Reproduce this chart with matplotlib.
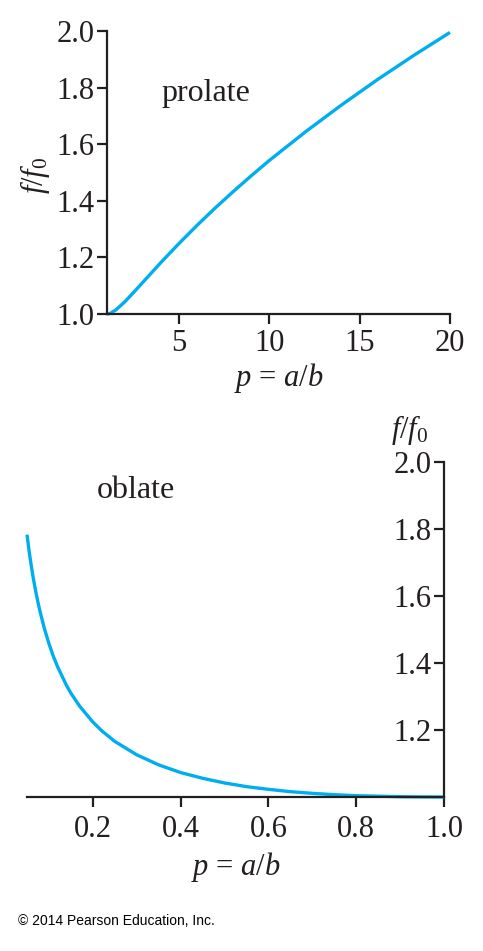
import matplotlib
matplotlib.use('Agg')
import matplotlib.pyplot as plt

# prolate branch, p = a/b > 1
p_prolate = [1.0, 1.1, 1.2, 1.5, 2, 2.5, 3, 4, 5, 6, 7, 8, 9, 10, 12, 14, 16, 18, 20]
f_prolate = [1.0, 1.001, 1.003, 1.015, 1.044, 1.078, 1.113, 1.183, 1.250, 1.314,
             1.375, 1.433, 1.489, 1.543, 1.644, 1.739, 1.829, 1.914, 1.995]

# oblate branch, p = a/b < 1
p_oblate = [0.05, 0.055, 0.06, 0.065, 0.07, 0.075, 0.08, 0.09, 0.10, 0.11,
            0.12, 0.14, 0.15, 0.17, 0.20, 0.22, 0.25, 0.30, 0.35, 0.40, 0.45,
            0.50, 0.55, 0.60, 0.65, 0.70, 0.75, 0.80, 0.85, 0.90, 0.95, 1.00]
f_oblate = [1.783, 1.732, 1.688, 1.648, 1.613, 1.581, 1.552, 1.501, 1.458, 1.420,
            1.388, 1.333, 1.310, 1.271, 1.224, 1.198, 1.166, 1.126, 1.096, 1.073,
            1.056, 1.042, 1.031, 1.023, 1.016, 1.011, 1.007, 1.004, 1.0025, 1.001,
            1.0003, 1.0]

prolate_xticks = [5, 10, 15, 20]
prolate_yticks = [1.0, 1.2, 1.4, 1.6, 1.8, 2.0]
oblate_xticks = [0.2, 0.4, 0.6, 0.8, 1.0]
oblate_yticks = [1.2, 1.4, 1.6, 1.8, 2.0]

curve_col = '#00aeef'
ink = '#231f20'
fs = 22

plt.rcParams['font.family'] = ['Liberation Serif', 'DejaVu Serif']
plt.rcParams['mathtext.fontset'] = 'custom'
plt.rcParams['mathtext.rm'] = 'Liberation Serif'
plt.rcParams['mathtext.it'] = 'Liberation Serif:italic'
plt.rcParams['font.size'] = fs

fig = plt.figure(figsize=(4.83, 9.51), dpi=100)


def style_axes(ax, xpad):
   for s in ['top', 'right']:
      ax.spines[s].set_visible(False)
   for s in ['bottom', 'left']:
      ax.spines[s].set_linewidth(1.6)
      ax.spines[s].set_color(ink)
   ax.tick_params(direction='out', length=7, width=1.6, colors=ink,
                  labelsize=fs, pad=2)
   ax.tick_params(axis='x', pad=xpad)


# ---- top: prolate
ax1 = fig.add_axes([0.2215, 0.6698, 0.7101, 0.2976])
ax1.plot(p_prolate, f_prolate, color=curve_col, lw=2.4, solid_capstyle='butt',
         clip_on=False)
ax1.set_xlim(1, 20)
ax1.set_ylim(1.0, 2.0)
ax1.set_xticks(prolate_xticks)
ax1.set_xticklabels([str(v) for v in prolate_xticks])
ax1.set_yticks(prolate_yticks)
ax1.set_yticklabels(['%.1f' % v for v in prolate_yticks])
style_axes(ax1, 4)
ax1.set_xlabel(r'$p$ = $a/b$', fontsize=fs, labelpad=2, color=ink)
ax1.text(-0.21, 0.491, r'$f/f_0$', transform=ax1.transAxes, rotation=90,
         ha='center', va='center', fontsize=fs, color=ink)
ax1.text(0.16, 0.78, 'prolate', transform=ax1.transAxes, fontsize=23,
         color=ink, va='center')

# ---- bottom: oblate, y spine sits at p = 1
ax2 = fig.add_axes([0.0559, 0.1619, 0.8634, 0.3523])
ax2.plot(p_oblate, f_oblate, color=curve_col, lw=2.4, solid_capstyle='butt',
         clip_on=False)
ax2.set_xlim(0.05, 1.0)
ax2.set_ylim(1.0, 2.0)
ax2.set_xticks(oblate_xticks)
ax2.set_xticklabels(['%.1f' % v for v in oblate_xticks])
ax2.set_yticks(oblate_yticks)
ax2.set_yticklabels(['%.1f' % v for v in oblate_yticks])
style_axes(ax2, 6)
ax2.spines['left'].set_position(('data', 1.0))
ax2.set_xlabel(r'$p$ = $a/b$', fontsize=fs, labelpad=4, color=ink)
ax2.text(0.918, 1.096, r'$f/f_0$', transform=ax2.transAxes, ha='center',
         va='center', fontsize=fs, color=ink)
ax2.text(0.168, 0.916, 'oblate', transform=ax2.transAxes, fontsize=23,
         color=ink, va='center')

fig.text(18 / 483, 1 - 921 / 951, '\u00a9 2014 Pearson Education, Inc.',
         family='Liberation Sans', fontsize=10, color='black', va='center')

fig.savefig('out.png', dpi=100)
